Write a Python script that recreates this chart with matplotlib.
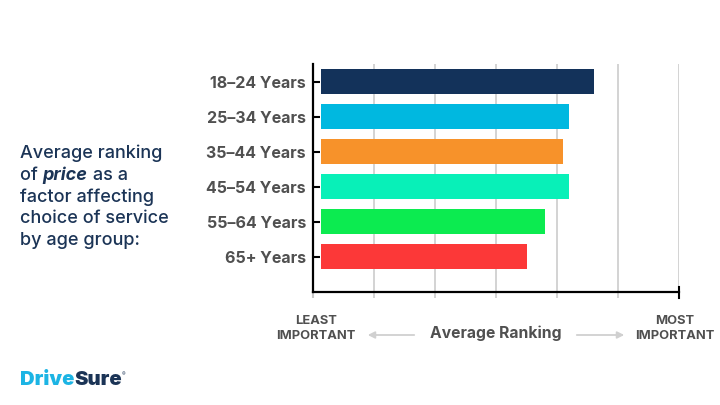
import numpy as np
import matplotlib.pyplot as plt

# data
groups = ["18–24 Years", "25–34 Years", "35–44 Years", "45–54 Years", "55–64 Years", "65+ Years"]
ranking = [4.6, 4.2, 4.1, 4.2, 3.8, 3.5]
colors = ["#13325a", "#00b8e0", "#f7922a", "#08f0b8", "#0ceb50", "#fc3838"]
x_ticks = [0, 1, 2, 3, 4, 5, 6]
bar_start = 0.13

plt.rcParams['font.family'] = ['Inter', 'DejaVu Sans']
GRAY = '#505050'
NAVY = '#1b3456'
W, H = 720, 405

fig = plt.figure(figsize=(7.2, 4.05), dpi=100)
ax = fig.add_axes([313/W, 1-291.7/H, 366/W, 227.7/H])

y = np.arange(len(groups))
ax.barh(y, np.array(ranking)-bar_start, left=bar_start, height=0.72, color=colors, zorder=3)

ax.set_xlim(0, 6)
ax.set_ylim(6.0, -0.5)
ax.set_xticks(x_ticks)
ax.set_xticklabels([])
for xt in x_ticks[1:]:
    ax.axvline(xt, color='#c8c8c8', lw=1.1, zorder=1)
ax.tick_params(axis='x', length=4.5, width=1.1, color='#c8c8c8', direction='out')
ax.xaxis.get_major_ticks()[0].tick1line.set_color('black')
ax.xaxis.get_major_ticks()[0].tick1line.set_markeredgewidth(1.5)
ax.axvline(6, ymin=-0.026, ymax=0.02, color='black', lw=1.5, clip_on=False, zorder=4)

ax.set_yticks(y)
ax.set_yticklabels(groups, fontsize=11.5, fontweight='bold', color=GRAY)
ax.tick_params(axis='y', length=5, width=1.5, color='black', direction='in', pad=5)

for s in ['top', 'right']:
    ax.spines[s].set_visible(False)
for s in ['left', 'bottom']:
    ax.spines[s].set_linewidth(1.6)
    ax.spines[s].set_color('black')

# left description text, line by line (second line has italic "price")
lines = ["Average ranking", None, "factor affecting", "choice of service", "by age group:"]
baselines = [158, 180, 202, 223.5, 245]
FS = 13
for ln, b in zip(lines, baselines):
    if ln is None:
        t1 = fig.text(20/W, 1-b/H, "of ", fontsize=FS, color=NAVY, fontweight='medium', va='baseline')
        t2 = fig.text(0, 0, "price", fontsize=FS, color=NAVY, fontweight='bold', style='italic')
        t3 = fig.text(0, 0, " as a", fontsize=FS, color=NAVY, fontweight='medium')
        fig.canvas.draw()
        r = fig.canvas.get_renderer()
        bb = t1.get_window_extent(r)
        t2.set_position((bb.x1/W, 1-b/H)); t2.set_va('baseline')
        bb2 = t2.get_window_extent(r)
        t3.set_position((bb2.x1/W, 1-b/H)); t3.set_va('baseline')
    else:
        fig.text(20/W, 1-b/H, ln, fontsize=FS, color=NAVY, fontweight='medium', va='baseline')

# bottom axis annotations
fig.text(316/W, 1-328.5/H, "LEAST\nIMPORTANT", fontsize=9.3, fontweight='bold', color=GRAY,
         ha='center', va='center', linespacing=1.25)
fig.text(675/W, 1-328.5/H, "MOST\nIMPORTANT", fontsize=9.3, fontweight='bold', color=GRAY,
         ha='center', va='center', linespacing=1.25)
fig.text(496/W, 1-333/H, "Average Ranking", fontsize=11.3, fontweight='bold', color=GRAY,
         ha='center', va='center')
arrow_kw = dict(arrowstyle='-|>,head_length=0.4,head_width=0.2', color='#d0d0d0', lw=1.3)
fig.add_artist(plt.matplotlib.patches.FancyArrowPatch((417/W, 1-335/H), (365/W, 1-335/H),
               transform=fig.transFigure, mutation_scale=10, **arrow_kw))
fig.add_artist(plt.matplotlib.patches.FancyArrowPatch((574/W, 1-335/H), (627/W, 1-335/H),
               transform=fig.transFigure, mutation_scale=10, **arrow_kw))

# logo
lg1 = fig.text(20/W, 1-385/H, "Drive", fontsize=14.5, fontweight='black', color='#1cb4e4', va='baseline')
fig.canvas.draw()
bbl = lg1.get_window_extent(fig.canvas.get_renderer())
lg2 = fig.text(bbl.x1/W, 1-385/H, "Sure", fontsize=14.5, fontweight='black', color=NAVY, va='baseline')
bbl2 = lg2.get_window_extent(fig.canvas.get_renderer())
fig.text(bbl2.x1/W, 1-376/H, "®", fontsize=4, color=NAVY, va='baseline')

fig.savefig("out.png", dpi=100)
